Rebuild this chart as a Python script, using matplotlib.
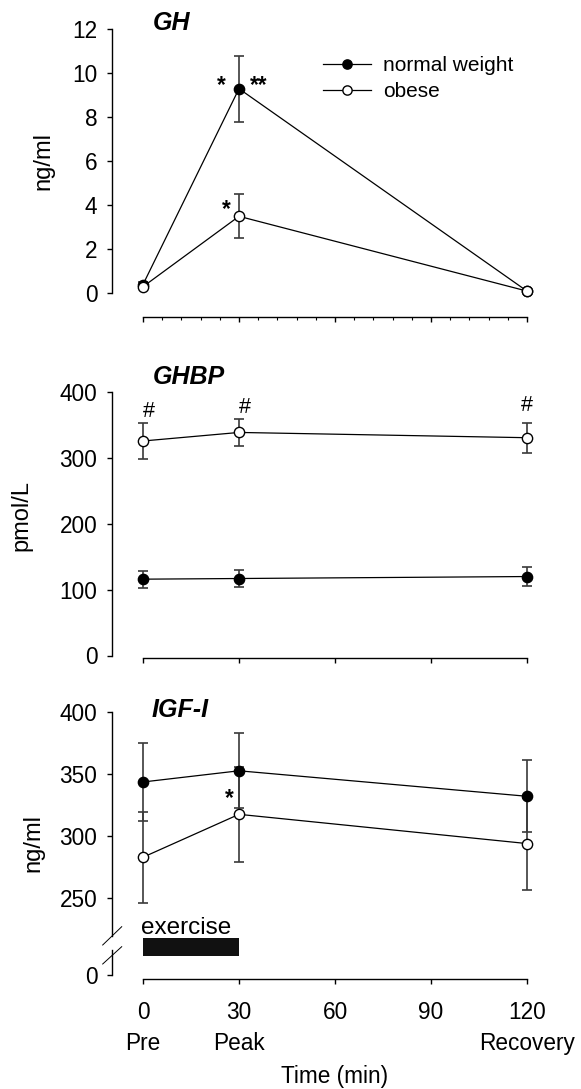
import matplotlib
matplotlib.use('Agg')
import matplotlib.pyplot as plt
from matplotlib.lines import Line2D
from matplotlib.ticker import FixedLocator

plt.rcParams['font.family'] = ['Liberation Sans', 'DejaVu Sans']

# ---------------- data ----------------
time_min = [0, 30, 120]
phase_labels = ['Pre', 'Peak', 'Recovery']
x_ticks = [0, 30, 60, 90, 120]
x_minor_ticks = [6, 12, 18, 24, 36, 42, 48, 54, 66, 72, 78, 84, 96, 102, 108, 114]

gh_normal = [0.4, 9.3, 0.1]
gh_normal_err = [0.1, 1.5, 0.05]
gh_obese = [0.3, 3.5, 0.1]
gh_obese_err = [0.08, 1.0, 0.05]

ghbp_normal = [116, 117, 120]
ghbp_normal_err = [13, 13, 14]
ghbp_obese = [326, 339, 331]
ghbp_obese_err = [27, 20, 23]

igf_normal = [343.5, 352.5, 332]
igf_normal_err = [31, 30, 29]
igf_obese = [283, 317.5, 294]
igf_obese_err = [36.5, 38, 37]

gh_yticks = [0, 2, 4, 6, 8, 10, 12]
ghbp_yticks = [0, 100, 200, 300, 400]
igf_yticks = [250, 300, 350, 400]

exercise_span = [0, 30]

# ---------------- layout helpers ----------------
W, H = 581, 1089
fig = plt.figure(figsize=(W / 100, H / 100), dpi=100)

def add_ax(left, right, top, bottom):
    return fig.add_axes([left / W, 1 - bottom / H, (right - left) / W, (bottom - top) / H])

X0PX, XSCALE = 143.0, 3.2           # pixel of x=0, px per minute
AX_L, AX_R = 112.0, 560.0
XLIM = (-(X0PX - AX_L) / XSCALE, (AX_R - X0PX) / XSCALE)

FS = 16.3       # tick labels
FL = 17         # axis labels
FT = 18         # panel titles
LW = 1.0
ECOL = '#3a3a3a'

def style(ax, ybounds, yticks, xminor=False, show_x=True):
    ax.set_xlim(*XLIM)
    for s in ('top', 'right'):
        ax.spines[s].set_visible(False)
    ax.spines['left'].set_bounds(*ybounds)
    ax.spines['left'].set_linewidth(LW)
    ax.set_yticks(yticks)
    ax.tick_params(axis='y', direction='out', length=3.6, width=LW, pad=7.0, labelsize=FS)
    if show_x:
        ax.spines['bottom'].set_bounds(0, 120)
        ax.spines['bottom'].set_linewidth(LW)
        ax.set_xticks(x_ticks)
        ax.tick_params(axis='x', direction='out', length=3.6, width=LW, labelbottom=False)
        if xminor:
            ax.xaxis.set_minor_locator(FixedLocator(x_minor_ticks))
            ax.tick_params(axis='x', which='minor', direction='out', length=1.8, width=0.8)
    else:
        ax.spines['bottom'].set_visible(False)
        ax.set_xticks([])

def draw(ax, yn, en, yo, eo):
    for y, e in ((yo, eo), (yn, en)):
        ax.errorbar(time_min, y, yerr=e, fmt='none', ecolor=ECOL, elinewidth=1.2,
                    capsize=3.6, capthick=1.2, zorder=2, clip_on=False)
    ax.plot(time_min, yn, '-o', color='black', lw=0.9, ms=7.4, mfc='black', mec='black',
            mew=1.0, zorder=3, clip_on=False, label='normal weight')
    ax.plot(time_min, yo, '-o', color='black', lw=0.9, ms=7.4, mfc='white', mec='black',
            mew=1.0, zorder=4, clip_on=False, label='obese')

# ---------------- panel 1: GH ----------------
GH0, GHS = 293.3, 22.0
ax1 = add_ax(AX_L, AX_R, GH0 - 12 * GHS, 316.7)
ax1.set_ylim(-(316.7 - GH0) / GHS, 12)
style(ax1, (0, 12), gh_yticks, xminor=True)
draw(ax1, gh_normal, gh_normal_err, gh_obese, gh_obese_err)
ax1.text(24.6, 9.45, '*', fontsize=FS, fontweight='bold', ha='center', va='center')
ax1.text(36.0, 9.45, '**', fontsize=FS, fontweight='bold', ha='center', va='center')
ax1.text(25.9, 3.8, '*', fontsize=FS, fontweight='bold', ha='center', va='center')
ax1.text(3.0, 12.3, 'GH', fontsize=FT, fontweight='bold', fontstyle='italic',
         ha='left', va='center')
leg = ax1.legend(loc='upper left', frameon=False, fontsize=15,
                 bbox_to_anchor=(322.7 / W, 1 - 56 / H), bbox_transform=fig.transFigure,
                 handlelength=2.3, handletextpad=0.6, labelspacing=0.33,
                 borderpad=0, borderaxespad=0, markerscale=0.9)
fig.text(43 / W, 1 - 161 / H, 'ng/ml', rotation=90, fontsize=FL, ha='center', va='center')

# ---------------- panel 2: GHBP ----------------
GB0, GBS = 655.5, 0.658
ax2 = add_ax(AX_L, AX_R, GB0 - 400 * GBS, 657.5)
ax2.set_ylim(-(657.5 - GB0) / GBS, 400)
style(ax2, (0, 400), ghbp_yticks)
draw(ax2, ghbp_normal, ghbp_normal_err, ghbp_obese, ghbp_obese_err)
hash_dx = [1.9, 1.9, 0.0]
hash_y = [371, 377, 380]
for t, dx, y in zip(time_min, hash_dx, hash_y):
    ax2.text(t + dx, y, '#', fontsize=15.5, ha='center', va='center')
ax2.text(3.0, 423, 'GHBP', fontsize=FT, fontweight='bold', fontstyle='italic',
         ha='left', va='center')
fig.text(21 / W, 1 - 515 / H, 'pmol/L', rotation=90, fontsize=FL, ha='center', va='center')

# ---------------- panel 3: IGF-I (broken axis) ----------------
IG250, IGS = 898.3, 1.244
top3 = IG250 - 150 * IGS
ax3 = add_ax(AX_L, AX_R, top3, 936.0)
ax3.set_ylim(250 - (936.0 - IG250) / IGS, 400)
style(ax3, (250 - (936.0 - IG250) / IGS, 400), igf_yticks, show_x=False)
draw(ax3, igf_normal, igf_normal_err, igf_obese, igf_obese_err)
ax3.text(27.0, 330.5, '*', fontsize=FS, fontweight='bold', ha='center', va='center')
ax3.text(2.6, 401, 'IGF-I', fontsize=FT, fontweight='bold', fontstyle='italic',
         ha='left', va='center')

ZERO_PX, XAX_PX, LOW_TOP = 975.0, 979.3, 950.0
ax4 = add_ax(AX_L, AX_R, LOW_TOP, XAX_PX)
ax4.set_ylim(-(XAX_PX - ZERO_PX), ZERO_PX - LOW_TOP)
style(ax4, (0, ZERO_PX - LOW_TOP), [0])
ax4.patch.set_visible(False)
ax4.tick_params(axis='x', labelbottom=True, labelsize=FS, pad=12)
ax4.set_xticklabels([str(v) for v in x_ticks])
# exercise bar (pixels 938..955 -> lower-axis units)
ax4.broken_barh([(exercise_span[0], exercise_span[1] - exercise_span[0])],
                (ZERO_PX - 955.5, 955.5 - 938.3), facecolors='#111111', clip_on=False)
ax4.text(exercise_span[0] - 0.5, ZERO_PX - 933.5, 'exercise', fontsize=17.5,
         ha='left', va='baseline')
for t, lab in zip(time_min, phase_labels):
    ax4.text(t, -(1043.3 - ZERO_PX), lab, fontsize=FS, ha='center', va='center')
ax4.text(60, -(1076.7 - ZERO_PX), 'Time (min)', fontsize=FS, ha='center', va='center')
fig.text(33 / W, 1 - 843 / H, 'ng/ml', rotation=90, fontsize=FL, ha='center', va='center')

# break marks
for (x1, y1, x2, y2) in ((102.7, 945.0, 121.7, 926.7), (102.7, 964.0, 121.7, 946.7)):
    fig.add_artist(Line2D([x1 / W, x2 / W], [1 - y1 / H, 1 - y2 / H], color='black',
                          lw=0.7, transform=fig.transFigure))

fig.savefig('out.png', dpi=100)
